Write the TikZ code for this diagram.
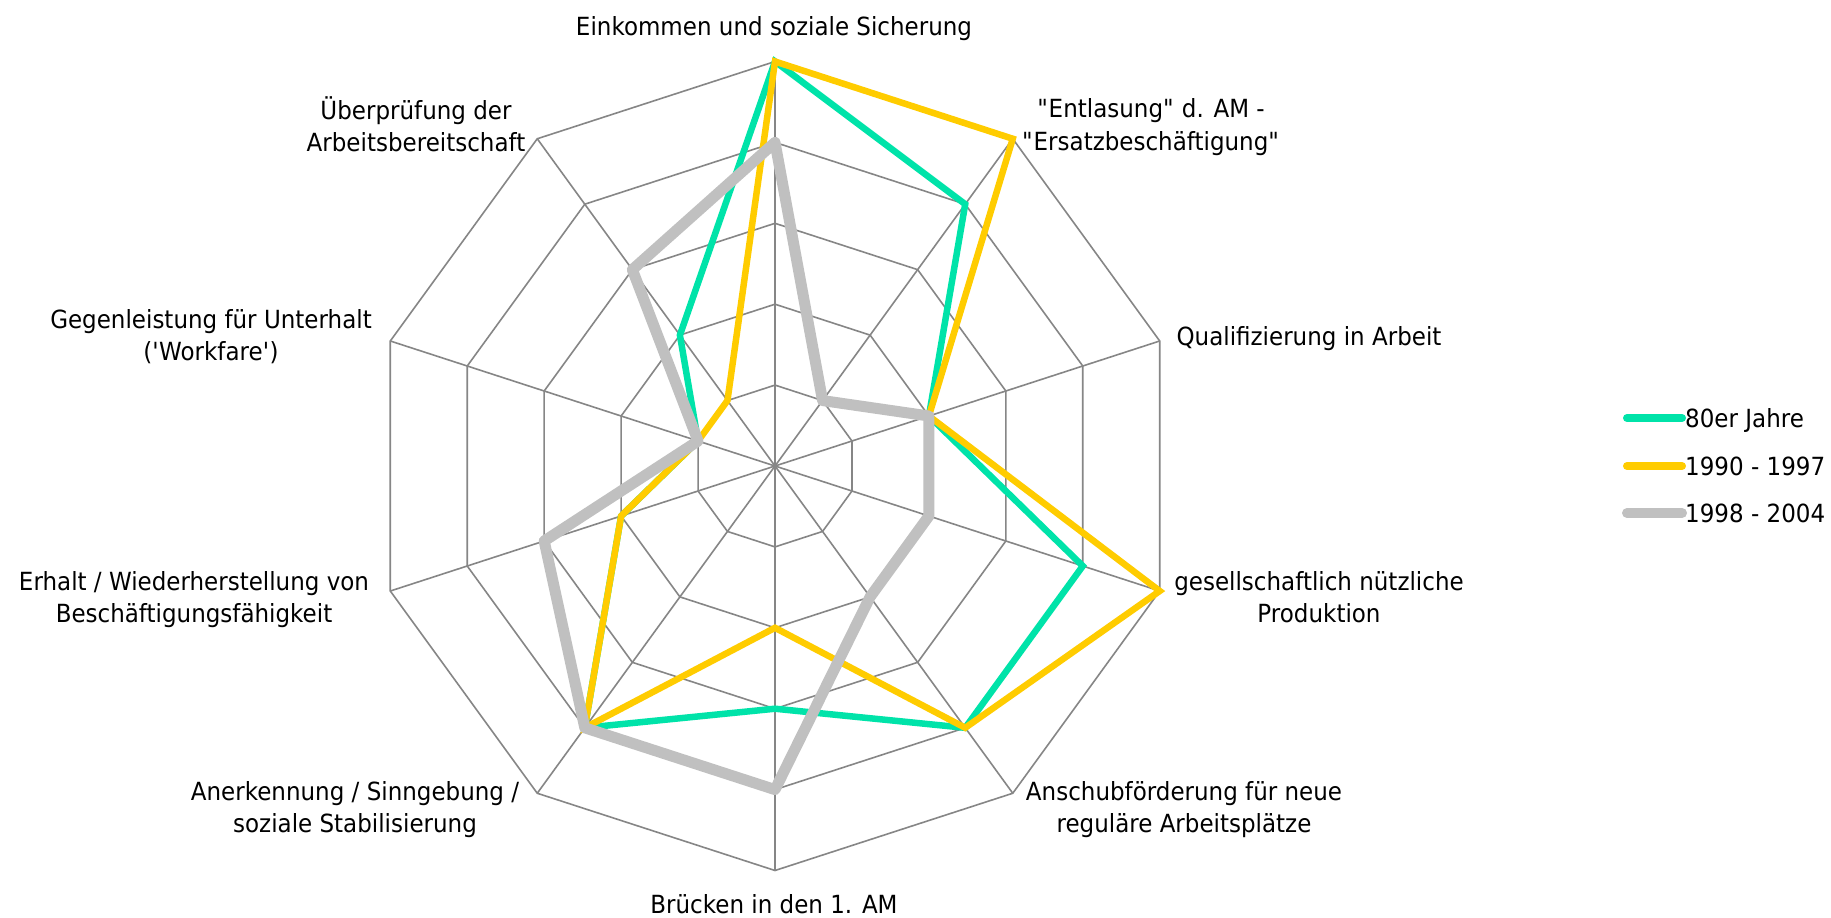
\documentclass[tikz,border=0pt]{standalone}
\usepackage{fontspec}
\setmainfont{DejaVu Sans}[FakeStretch=0.92]
\begin{document}
\begin{tikzpicture}[x=1pt,y=-1pt,
  gridline/.style={draw=gridgray,line width=1.6pt},
  serA/.style={draw=serGreen,line width=6.5pt,line join=miter},
  serB/.style={draw=serYellow,line width=6.5pt,line join=miter},
  serC/.style={draw=serGray,line width=11pt,line join=round},
  legline/.style={line width=9pt,line cap=round},
  lbl/.style={anchor=base,inner sep=0pt,font=\fontsize{25}{30}\selectfont},
  leglbl/.style={anchor=base west,inner sep=0pt,font=\fontsize{25}{30}\selectfont}]
\definecolor{gridgray}{HTML}{868686}
\definecolor{serGreen}{HTML}{00E3A9}
\definecolor{serYellow}{HTML}{FFCC00}
\definecolor{serGray}{HTML}{C0C0C0}
\useasboundingbox (0,0) rectangle (1831,918);
\fill[white] (0,0) rectangle (1831,918);

% centre and ring spacing of the radar chart
\def\cx{775}\def\cy{466}\def\ring{80.9}

% grid: five decagons and ten spokes
\coordinate (ctr) at (\cx,\cy);
\foreach \k in {0,...,9}{
  \coordinate (ax\k) at ({\cx+5*\ring*sin(36*\k)},{\cy-5*\ring*cos(36*\k)});
  \draw[gridline] (ctr) -- (ax\k);
}
\foreach \lv in {1,...,5}{
  \draw[gridline,line join=miter]
    ({\cx+\lv*\ring*sin(0)},{\cy-\lv*\ring*cos(0)})
    \foreach \k in {1,...,9}{ -- ({\cx+\lv*\ring*sin(36*\k)},{\cy-\lv*\ring*cos(36*\k)}) } -- cycle;
}

% data points of the three series
\foreach \v [count=\k from 0] in {5,4,2,4,4,3,4,2,1,2}
  \coordinate (g\k) at ({\cx+\v*\ring*sin(36*\k)},{\cy-\v*\ring*cos(36*\k)});
\foreach \v [count=\k from 0] in {5,5,2,5,4,2,4,2,1,1}
  \coordinate (y\k) at ({\cx+\v*\ring*sin(36*\k)},{\cy-\v*\ring*cos(36*\k)});
\foreach \v [count=\k from 0] in {4,1,2,2,2,4,4,3,1,3}
  \coordinate (s\k) at ({\cx+\v*\ring*sin(36*\k)},{\cy-\v*\ring*cos(36*\k)});

\draw[serA] (g0)--(g1)--(g2)--(g3)--(g4)--(g5)--(g6)--(g7)--(g8)--(g9)--cycle;
\draw[serB] (y0)--(y1)--(y2)--(y3)--(y4)--(y5)--(y6)--(y7)--(y8)--(y9)--cycle;
\draw[serC] (s0)--(s1)--(s2)--(s3)--(s4)--(s5)--(s6)--(s7)--(s8)--(s9)--cycle;

% axis labels
\node[lbl] (l0) at (774,35) {Einkommen und soziale Sicherung};
\node[lbl] (l1a) at (1151,117) {\textquotedbl Entlasung\textquotedbl{} d. AM -};
\node[lbl] (l1b) at (1151,150) {\textquotedbl Ersatzbeschäftigung\textquotedbl};
\node[lbl] (l2) at (1309,345) {Qualifizierung in Arbeit};
\node[lbl] (l3a) at (1319,590) {gesellschaftlich nützliche};
\node[lbl] (l3b) at (1319,622) {Produktion};
\node[lbl] (l4a) at (1184,800) {Anschubförderung für neue};
\node[lbl] (l4b) at (1184,832) {reguläre Arbeitsplätze};
\node[lbl] (l5) at (774,913) {Brücken in den 1. AM};
\node[lbl] (l6a) at (355,800) {Anerkennung / Sinngebung /};
\node[lbl] (l6b) at (355,832) {soziale Stabilisierung};
\node[lbl] (l7a) at (194,590) {Erhalt / Wiederherstellung von};
\node[lbl] (l7b) at (194,622) {Beschäftigungsfähigkeit};
\node[lbl] (l8a) at (211,328) {Gegenleistung für Unterhalt};
\node[lbl] (l8b) at (211,360) {(\textquotesingle Workfare\textquotesingle)};
\node[lbl] (l9a) at (416,119) {Überprüfung der};
\node[lbl] (l9b) at (416,151) {Arbeitsbereitschaft};

% legend
\coordinate (k1a) at (1627,418); \coordinate (k1b) at (1682,418);
\coordinate (k2a) at (1627,466); \coordinate (k2b) at (1682,466);
\coordinate (k3a) at (1627,513); \coordinate (k3b) at (1682,513);
\draw[legline,serGreen,line width=8pt] (k1a) -- (k1b);
\draw[legline,serYellow,line width=8pt] (k2a) -- (k2b);
\draw[legline,serGray,line width=10pt] (k3a) -- (k3b);
\node[leglbl] (t1) at (1685,427.5) {80er Jahre};
\node[leglbl] (t2) at (1685,475.5) {1990 - 1997};
\node[leglbl] (t3) at (1685,522.5) {1998 - 2004};
\end{tikzpicture}
\end{document}
